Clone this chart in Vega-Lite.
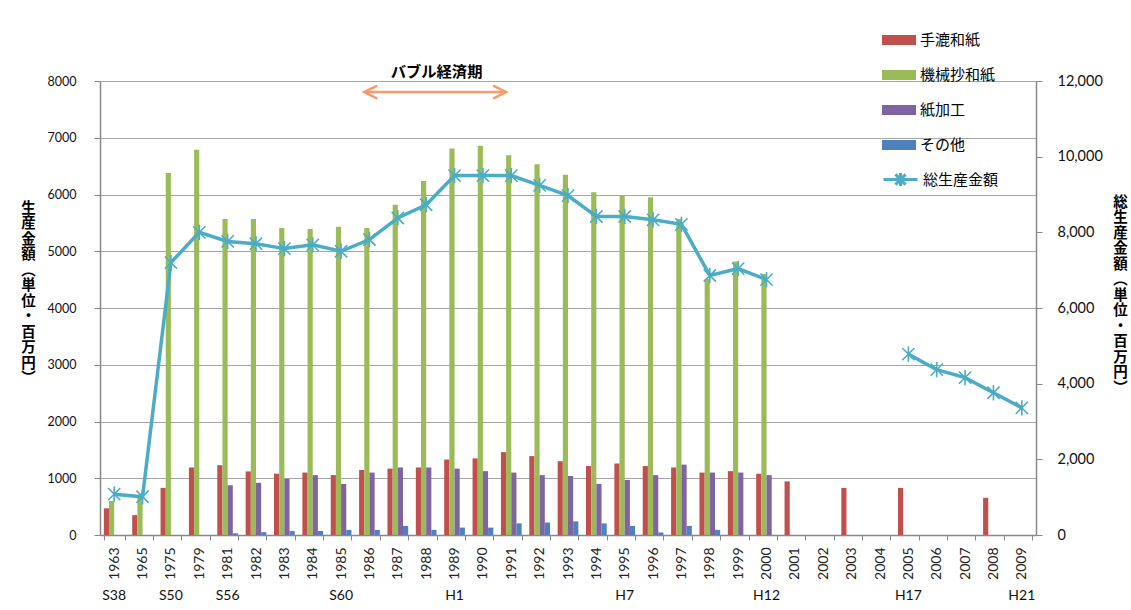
{
  "$schema": "https://vega.github.io/schema/vega-lite/v6.json",
  "width": 936,
  "height": 454,
  "autosize": "none",
  "padding": {"left": 100, "top": 81, "right": 95, "bottom": 75},
  "background": "white",
  "config": {"view": {"stroke": null}, "font": "Lato"},
  "datasets": {
    "bars": [
      {"year": "1963", "series": "手漉和紙", "value": 470},
      {"year": "1963", "series": "機械抄和紙", "value": 600},
      {"year": "1965", "series": "手漉和紙", "value": 350},
      {"year": "1965", "series": "機械抄和紙", "value": 690},
      {"year": "1975", "series": "手漉和紙", "value": 830},
      {"year": "1975", "series": "機械抄和紙", "value": 6380},
      {"year": "1979", "series": "手漉和紙", "value": 1190},
      {"year": "1979", "series": "機械抄和紙", "value": 6790},
      {"year": "1981", "series": "手漉和紙", "value": 1230},
      {"year": "1981", "series": "機械抄和紙", "value": 5570},
      {"year": "1981", "series": "紙加工", "value": 875},
      {"year": "1981", "series": "その他", "value": 30},
      {"year": "1982", "series": "手漉和紙", "value": 1120},
      {"year": "1982", "series": "機械抄和紙", "value": 5570},
      {"year": "1982", "series": "紙加工", "value": 920},
      {"year": "1982", "series": "その他", "value": 50},
      {"year": "1983", "series": "手漉和紙", "value": 1080},
      {"year": "1983", "series": "機械抄和紙", "value": 5410},
      {"year": "1983", "series": "紙加工", "value": 990},
      {"year": "1983", "series": "その他", "value": 70},
      {"year": "1984", "series": "手漉和紙", "value": 1100},
      {"year": "1984", "series": "機械抄和紙", "value": 5390},
      {"year": "1984", "series": "紙加工", "value": 1055},
      {"year": "1984", "series": "その他", "value": 70},
      {"year": "1985", "series": "手漉和紙", "value": 1055},
      {"year": "1985", "series": "機械抄和紙", "value": 5430},
      {"year": "1985", "series": "紙加工", "value": 900},
      {"year": "1985", "series": "その他", "value": 90},
      {"year": "1986", "series": "手漉和紙", "value": 1145},
      {"year": "1986", "series": "機械抄和紙", "value": 5410},
      {"year": "1986", "series": "紙加工", "value": 1100},
      {"year": "1986", "series": "その他", "value": 90},
      {"year": "1987", "series": "手漉和紙", "value": 1170},
      {"year": "1987", "series": "機械抄和紙", "value": 5820},
      {"year": "1987", "series": "紙加工", "value": 1190},
      {"year": "1987", "series": "その他", "value": 160},
      {"year": "1988", "series": "手漉和紙", "value": 1190},
      {"year": "1988", "series": "機械抄和紙", "value": 6240},
      {"year": "1988", "series": "紙加工", "value": 1190},
      {"year": "1988", "series": "その他", "value": 90},
      {"year": "1989", "series": "手漉和紙", "value": 1330},
      {"year": "1989", "series": "機械抄和紙", "value": 6810},
      {"year": "1989", "series": "紙加工", "value": 1170},
      {"year": "1989", "series": "その他", "value": 130},
      {"year": "1990", "series": "手漉和紙", "value": 1350},
      {"year": "1990", "series": "機械抄和紙", "value": 6860},
      {"year": "1990", "series": "紙加工", "value": 1125},
      {"year": "1990", "series": "その他", "value": 130},
      {"year": "1991", "series": "手漉和紙", "value": 1460},
      {"year": "1991", "series": "機械抄和紙", "value": 6690},
      {"year": "1991", "series": "紙加工", "value": 1100},
      {"year": "1991", "series": "その他", "value": 205},
      {"year": "1992", "series": "手漉和紙", "value": 1390},
      {"year": "1992", "series": "機械抄和紙", "value": 6535},
      {"year": "1992", "series": "紙加工", "value": 1055},
      {"year": "1992", "series": "その他", "value": 220},
      {"year": "1993", "series": "手漉和紙", "value": 1300},
      {"year": "1993", "series": "機械抄和紙", "value": 6350},
      {"year": "1993", "series": "紙加工", "value": 1040},
      {"year": "1993", "series": "その他", "value": 240},
      {"year": "1994", "series": "手漉和紙", "value": 1215},
      {"year": "1994", "series": "機械抄和紙", "value": 6040},
      {"year": "1994", "series": "紙加工", "value": 900},
      {"year": "1994", "series": "その他", "value": 205},
      {"year": "1995", "series": "手漉和紙", "value": 1260},
      {"year": "1995", "series": "機械抄和紙", "value": 5990},
      {"year": "1995", "series": "紙加工", "value": 970},
      {"year": "1995", "series": "その他", "value": 160},
      {"year": "1996", "series": "手漉和紙", "value": 1215},
      {"year": "1996", "series": "機械抄和紙", "value": 5950},
      {"year": "1996", "series": "紙加工", "value": 1055},
      {"year": "1996", "series": "その他", "value": 45},
      {"year": "1997", "series": "手漉和紙", "value": 1190},
      {"year": "1997", "series": "機械抄和紙", "value": 5570},
      {"year": "1997", "series": "紙加工", "value": 1240},
      {"year": "1997", "series": "その他", "value": 160},
      {"year": "1998", "series": "手漉和紙", "value": 1100},
      {"year": "1998", "series": "機械抄和紙", "value": 4510},
      {"year": "1998", "series": "紙加工", "value": 1100},
      {"year": "1998", "series": "その他", "value": 90},
      {"year": "1999", "series": "手漉和紙", "value": 1125},
      {"year": "1999", "series": "機械抄和紙", "value": 4820},
      {"year": "1999", "series": "紙加工", "value": 1100},
      {"year": "2000", "series": "手漉和紙", "value": 1080},
      {"year": "2000", "series": "機械抄和紙", "value": 4600},
      {"year": "2000", "series": "紙加工", "value": 1055},
      {"year": "2001", "series": "手漉和紙", "value": 945},
      {"year": "2003", "series": "手漉和紙", "value": 830},
      {"year": "2005", "series": "手漉和紙", "value": 830},
      {"year": "2008", "series": "手漉和紙", "value": 655}
    ],
    "total": [
      {"year": "1963", "total": 1080},
      {"year": "1965", "total": 1010},
      {"year": "1975", "total": 7200},
      {"year": "1979", "total": 8000},
      {"year": "1981", "total": 7760},
      {"year": "1982", "total": 7700},
      {"year": "1983", "total": 7570},
      {"year": "1984", "total": 7670},
      {"year": "1985", "total": 7500},
      {"year": "1986", "total": 7810},
      {"year": "1987", "total": 8380},
      {"year": "1988", "total": 8730},
      {"year": "1989", "total": 9500},
      {"year": "1990", "total": 9500},
      {"year": "1991", "total": 9500},
      {"year": "1992", "total": 9240},
      {"year": "1993", "total": 8970},
      {"year": "1994", "total": 8420},
      {"year": "1995", "total": 8420},
      {"year": "1996", "total": 8330},
      {"year": "1997", "total": 8210},
      {"year": "1998", "total": 6860},
      {"year": "1999", "total": 7040},
      {"year": "2000", "total": 6750},
      {"year": "2001", "total": null},
      {"year": "2002", "total": null},
      {"year": "2003", "total": null},
      {"year": "2004", "total": null},
      {"year": "2005", "total": 4780},
      {"year": "2006", "total": 4370},
      {"year": "2007", "total": 4160},
      {"year": "2008", "total": 3760},
      {"year": "2009", "total": 3360}
    ],
    "bubbleLabel": [{"year": "1988", "label": "バブル経済期"}],
    "bubbleArrow": [
      {"year": "1986", "dir": "left"},
      {"year": "1991", "dir": "right"}
    ]
  },
  "layer": [
    {
      "data": {"name": "bars"},
      "mark": {"type": "bar"},
      "encoding": {
        "x": {
          "field": "year", "type": "nominal", "title": null,
          "scale": {
            "domain": ["1963","1965","1975","1979","1981","1982","1983","1984","1985","1986","1987","1988","1989","1990","1991","1992","1993","1994","1995","1996","1997","1998","1999","2000","2001","2002","2003","2004","2005","2006","2007","2008","2009"],
            "paddingInner": 0.27, "paddingOuter": 0.135
          },
          "axis": {
            "orient": "bottom", "title": null, "labelAngle": -90, "labelFont": "Lato", "labelFontSize": 14,
            "labelColor": "#222", "labelPadding": 7, "tickBand": "extent", "tickSize": 5, "tickColor": "#888",
            "domainColor": "#888", "domainWidth": 1.5, "grid": false, "labelOverlap": false
          }
        },
        "xOffset": {
          "field": "series", "type": "nominal",
          "scale": {"domain": ["手漉和紙", "機械抄和紙", "紙加工", "その他"], "paddingInner": 0, "paddingOuter": 0}
        },
        "y": {
          "field": "value", "type": "quantitative",
          "scale": {"domain": [0, 8000], "nice": false},
          "axis": {
            "orient": "left",
            "values": [0,1000,2000,3000,4000,5000,6000,7000,8000], "format": "d",
            "labelFont": "Lato", "labelFontSize": 12.5, "labelColor": "#111", "labelPadding": 18,
            "tickSize": 6, "tickColor": "#888", "domainColor": "#888", "domainWidth": 1.5,
            "grid": true, "gridColor": "#A6A6A6", "gridWidth": 1.2,
            "title": ["生","産","金","額","︵","単","位","・","百","万","円","︶"],
            "titleAngle": 0, "titleFont": "Noto Sans CJK JP", "titleFontSize": 14.5, "titleFontWeight": "bold",
            "titleLineHeight": 15.5, "titleX": -72, "titleY": 120, "titleBaseline": "top", "titleAlign": "center",
            "titleColor": "#000"
          }
        },
        "color": {
          "field": "series", "type": "nominal",
          "scale": {"domain": ["手漉和紙", "機械抄和紙", "紙加工", "その他"], "range": ["#C0504D", "#9BBB59", "#8064A2", "#4F81BD"]},
          "legend": {
            "orient": "none", "legendX": 782, "legendY": -58, "title": null, "padding": 0,
            "symbolType": "M-1,-0.3H1V0.3H-1Z", "symbolSize": 1156, "symbolStrokeWidth": 0,
            "rowPadding": 10, "labelOffset": 4, "labelFont": "Noto Sans CJK JP", "labelFontSize": 15, "labelColor": "#000"
          }
        }
      }
    },
    {
      "data": {"name": "bubbleArrow"},
      "mark": {"type": "line", "color": "#F79A6E", "strokeWidth": 2.5},
      "encoding": {
        "x": {"field": "year", "type": "nominal", "bandPosition": 0.25, "axis": null, "title": null},
        "y": {"datum": 7806, "type": "quantitative", "scale": {"domain": [0, 8000], "nice": false}, "axis": null}
      }
    },
    {
      "data": {"name": "bubbleArrow"},
      "mark": {"type": "point", "filled": false, "color": "#F79A6E", "strokeWidth": 2.5, "size": 169, "opacity": 1},
      "encoding": {
        "x": {"field": "year", "type": "nominal", "bandPosition": 0.25, "axis": null, "title": null},
        "y": {"datum": 7806, "type": "quantitative", "scale": {"domain": [0, 8000], "nice": false}, "axis": null},
        "shape": {"field": "dir", "type": "nominal", "scale": {"domain": ["left", "right"], "range": ["M2,-1L0,0L2,1", "M-2,-1L0,0L-2,1"]}, "legend": null}
      }
    },
    {
      "data": {"name": "bubbleLabel"},
      "mark": {"type": "text", "font": "Noto Sans CJK JP", "fontSize": 15.3, "fontWeight": "bold", "color": "#000"},
      "encoding": {
        "x": {"field": "year", "type": "nominal", "bandPosition": 1, "axis": null, "title": null},
        "y": {"datum": 8160, "type": "quantitative", "scale": {"domain": [0, 8000], "nice": false}, "axis": null},
        "text": {"field": "label"}
      }
    },
    {
      "data": {"name": "total"},
      "mark": {"type": "line", "strokeWidth": 3.5, "invalid": "break-paths-filter-domains"},
      "encoding": {
        "x": {
          "field": "year", "type": "nominal", "title": null,
          "axis": {
            "orient": "bottom", "title": null, "offset": 48, "domain": false, "ticks": false, "tickSize": 0,
            "labelAngle": 0, "labelBaseline": "top", "labelPadding": 5, "labelFont": "Lato", "labelFontSize": 14,
            "labelColor": "#111", "labelOverlap": false, "grid": false,
            "labelExpr": "datum.value == '1963' ? 'S38' : datum.value == '1975' ? 'S50' : datum.value == '1981' ? 'S56' : datum.value == '1985' ? 'S60' : datum.value == '1989' ? 'H1' : datum.value == '1995' ? 'H7' : datum.value == '2000' ? 'H12' : datum.value == '2005' ? 'H17' : datum.value == '2009' ? 'H21' : ''"
          }
        },
        "y": {
          "field": "total", "type": "quantitative",
          "scale": {"domain": [0, 12000], "nice": false},
          "axis": {
            "orient": "right", "values": [0,2000,4000,6000,8000,10000,12000], "format": ",d", "grid": false,
            "labelFont": "Lato", "labelFontSize": 14.5, "labelColor": "#111", "labelPadding": 15,
            "tickSize": 6, "tickColor": "#888", "domainColor": "#888", "domainWidth": 1.5,
            "title": ["総","生","産","金","額","︵","単","位","・","百","万","円","︶"],
            "titleAngle": 0, "titleFont": "Noto Sans CJK JP", "titleFontSize": 14.5, "titleFontWeight": "bold",
            "titleLineHeight": 15.5, "titleX": 84, "titleY": 114, "titleBaseline": "top", "titleAlign": "center",
            "titleColor": "#000"
          }
        },
        "stroke": {
          "datum": "総生産金額",
          "scale": {"range": ["#4BACC6"]},
          "legend": {
            "orient": "none", "legendX": 782, "legendY": 80, "title": null, "padding": 0,
            "symbolType": "M-1,0H1M-0.3,-0.3L0.3,0.3M-0.3,0.3L0.3,-0.3M0,-0.38V0.38", "symbolSize": 1156,
            "symbolStrokeWidth": 3, "symbolFillColor": "transparent",
            "labelOffset": 4, "labelFont": "Noto Sans CJK JP", "labelFontSize": 15, "labelColor": "#000"
          }
        }
      }
    },
    {
      "data": {"name": "total"},
      "mark": {"type": "point", "shape": "M-1,-1L1,1M-1,1L1,-1M0,-1.25V1.25", "filled": false, "color": "#4BACC6", "strokeWidth": 1.6, "size": 150, "opacity": 1},
      "encoding": {
        "x": {"field": "year", "type": "nominal", "axis": null, "title": null},
        "y": {"field": "total", "type": "quantitative", "scale": {"domain": [0, 12000], "nice": false}, "axis": null}
      }
    }
  ],
  "resolve": {"scale": {"y": "independent"}, "axis": {"x": "independent", "y": "independent"}}
}
